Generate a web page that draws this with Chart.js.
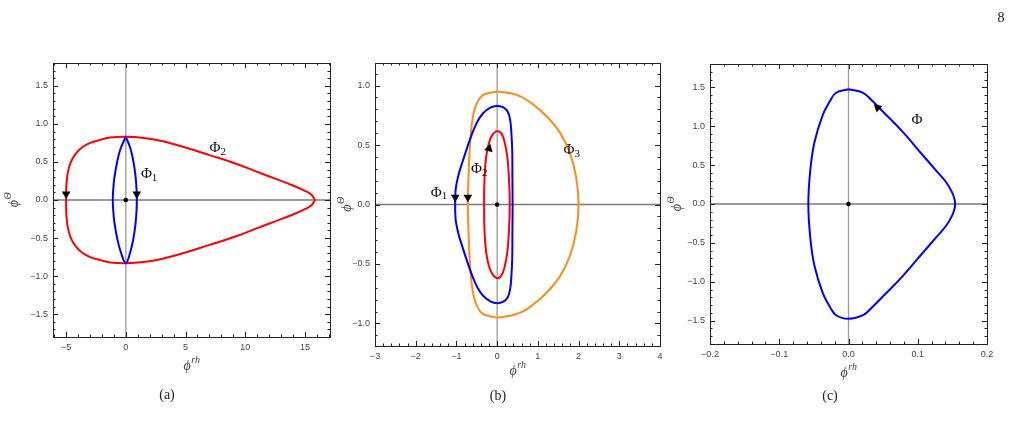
<!DOCTYPE html>
<html>
<head>
<meta charset="utf-8">
<script src="https://cdn.jsdelivr.net/npm/chart.js@4.4.0/dist/chart.umd.min.js"></script>
<style>
  body { margin: 0; background: #fff; width: 1013px; height: 437px; position: relative; overflow: hidden; font-family: "Liberation Serif", "DejaVu Serif", serif; }
  canvas { position: absolute; left: 0; top: 0; }
  .cap { position: absolute; font-size: 14px; color: #222; transform: translate(-50%, -50%); }
</style>
</head>
<body>
<canvas id="pa" width="1013" height="437"></canvas>
<canvas id="pb" width="1013" height="437"></canvas>
<canvas id="pc" width="1013" height="437"></canvas>
<div class="cap" style="left:167px;top:395px">(a)</div>
<div class="cap" style="left:498px;top:396px">(b)</div>
<div class="cap" style="left:830px;top:396px">(c)</div>
<div class="cap" style="left:1001px;top:18px">8</div>
<script>
// ---- panel (a) ----
const aPhi1 = [[0,0.83],[0.38,0.68],[0.64,0.5],[0.82,0.3],[0.9,0.13],[0.92,0],[0.9,-0.13],[0.82,-0.3],[0.64,-0.5],[0.38,-0.68],[0,-0.83],
  [-0.43,-0.68],[-0.73,-0.5],[-0.95,-0.3],[-1.06,-0.13],[-1.09,0],[-1.06,0.13],[-0.95,0.3],[-0.73,0.5],[-0.43,0.68],[0,0.83]];
const aPhi2 = [[15.85,0],[15.55,0.07],[15.0,0.12],[14.0,0.19],[12.5,0.28],[11.0,0.37],[9.0,0.49],[7.0,0.59],[5.0,0.69],[3.0,0.775],[1.5,0.815],
  [0,0.83],[-1.31,0.82],[-2.15,0.79],[-2.98,0.75],[-3.68,0.69],[-4.24,0.6],[-4.6,0.5],[-4.85,0.37],[-4.97,0.22],[-5.0,0.09],[-5.0,0],
  [-5.0,-0.09],[-4.97,-0.22],[-4.85,-0.37],[-4.6,-0.5],[-4.24,-0.6],[-3.68,-0.69],[-2.98,-0.75],[-2.15,-0.79],[-1.31,-0.82],[0,-0.83],
  [1.5,-0.815],[3.0,-0.775],[5.0,-0.69],[7.0,-0.59],[9.0,-0.49],[11.0,-0.37],[12.5,-0.28],[14.0,-0.19],[15.0,-0.12],[15.55,-0.07],[15.85,0]];
const aArrows = [[-5.0,0.08],[0.92,0.08]];
const aArrowRot = [180, 180];
const aLabels = [['Φ','2',7.7,0.68],['Φ','1',1.95,0.34]];
const aXTicks = [-5, 0, 5, 10, 15];
const aYTicks = [-1.5, -1.0, -0.5, 0.0, 0.5, 1.0, 1.5];

// ---- panel (b) ----
const bPhi1 = [[0,0.83],[0.155,0.817],[0.26,0.78],[0.32,0.71],[0.35,0.6],[0.37,0.46],[0.375,0.23],[0.38,0],[0.375,-0.23],[0.37,-0.46],
  [0.35,-0.6],[0.32,-0.71],[0.26,-0.78],[0.155,-0.817],[0,-0.83],[-0.155,-0.817],[-0.34,-0.77],[-0.48,-0.7],[-0.61,-0.6],[-0.73,-0.485],
  [-0.84,-0.37],[-0.94,-0.26],[-1.01,-0.15],[-1.03,-0.06],[-1.03,0],[-1.03,0.06],[-1.01,0.15],[-0.94,0.26],[-0.84,0.37],[-0.73,0.485],
  [-0.61,0.6],[-0.48,0.7],[-0.34,0.77],[-0.155,0.817],[0,0.83]];
const bPhi2 = [[0,0.62],[0.1,0.6],[0.18,0.53],[0.25,0.4],[0.29,0.22],[0.31,0],[0.29,-0.22],[0.25,-0.4],[0.18,-0.53],[0.1,-0.6],[0,-0.62],
  [-0.11,-0.59],[-0.2,-0.52],[-0.27,-0.4],[-0.31,-0.22],[-0.32,0],[-0.31,0.22],[-0.27,0.4],[-0.2,0.52],[-0.11,0.59],[0,0.62]];
const bPhi3 = [[0,0.95],[0.24,0.94],[0.57,0.91],[0.89,0.84],[1.22,0.74],[1.55,0.6],[1.79,0.43],[1.94,0.23],[2.0,0],[1.94,-0.23],[1.79,-0.43],
  [1.55,-0.6],[1.22,-0.74],[0.89,-0.84],[0.57,-0.91],[0.24,-0.94],[0,-0.95],[-0.17,-0.94],[-0.35,-0.92],[-0.48,-0.865],[-0.57,-0.78],
  [-0.63,-0.65],[-0.67,-0.485],[-0.7,-0.26],[-0.72,0],[-0.7,0.26],[-0.67,0.485],[-0.63,0.65],[-0.57,0.78],[-0.48,0.865],[-0.35,0.92],
  [-0.17,0.94],[0,0.95]];
const bArrows = [[-1.03,0.06],[-0.72,0.06],[-0.2,0.47]];
const bArrowRot = [180, 180, 15];
const bLabels = [['Φ','3',1.83,0.46],['Φ','2',-0.44,0.3],['Φ','1',-1.43,0.1]];
const bXTicks = [-3, -2, -1, 0, 1, 2, 3, 4];
const bYTicks = [-1.0, -0.5, 0.0, 0.5, 1.0];

// ---- panel (c) ----
const cPhi = [[0,1.475],[0.021,1.43],[0.035,1.32],[0.0495,1.19],[0.078,0.93],[0.107,0.63],[0.1265,0.43],[0.141,0.28],[0.1496,0.15],
  [0.153,0.065],[0.154,0],[0.153,-0.065],[0.1496,-0.15],[0.141,-0.28],[0.1265,-0.43],[0.107,-0.63],[0.078,-0.93],[0.0495,-1.19],
  [0.035,-1.32],[0.021,-1.43],[0,-1.475],[-0.018,-1.43],[-0.027,-1.32],[-0.037,-1.15],[-0.049,-0.8],[-0.055,-0.45],[-0.058,0],
  [-0.055,0.45],[-0.049,0.8],[-0.037,1.15],[-0.027,1.32],[-0.018,1.43],[0,1.475]];
const cArrows = [[0.042,1.24]];
const cArrowRot = [-48];
const cLabels = [['Φ','',0.099,1.08]];
const cXTicks = [-0.2, -0.1, 0.0, 0.1, 0.2];
const cYTicks = [-1.5, -1.0, -0.5, 0.0, 0.5, 1.0, 1.5];

const pts = arr => arr.map(p => ({ x: p[0], y: p[1] }));
const minus = s => s.replace('-', '\u2212');

// frame, inward ticks on all sides, zero axes, labels and axis titles
const framePlugin = {
  id: 'frame',
  beforeDatasetsDraw(chart, args, o) {
    const { ctx, chartArea: a, scales: { x, y } } = chart;
    ctx.save();
    ctx.lineWidth = 1.3;
    ctx.strokeStyle = '#9a9a9a';
    const x0 = x.getPixelForValue(0);
    ctx.beginPath(); ctx.moveTo(x0, a.top); ctx.lineTo(x0, a.bottom); ctx.stroke();
    ctx.strokeStyle = '#7a7a7a';
    const y0 = y.getPixelForValue(0);
    ctx.beginPath(); ctx.moveTo(a.left, y0); ctx.lineTo(a.right, y0); ctx.stroke();
    ctx.restore();
  },
  afterDraw(chart, args, o) {
    const { ctx, chartArea: a, scales: { x, y } } = chart;
    ctx.save();
    ctx.strokeStyle = '#222';
    ctx.lineWidth = 1;
    ctx.strokeRect(Math.round(a.left) + .5, Math.round(a.top) + .5, Math.round(a.right - a.left), Math.round(a.bottom - a.top));
    const each = (scale, step, majors, fn) => {
      for (let k = Math.ceil(scale.min / step - 1e-9); k * step <= scale.max + 1e-9; k++) {
        const v = k * step;
        const major = majors.some(m => Math.abs(m - v) < step / 10);
        fn(Math.round(scale.getPixelForValue(v)) + .5, major ? 5 : 2.5);
      }
    };
    ctx.beginPath();
    each(x, o.xMinor, o.xMajor, (p, l) => {
      ctx.moveTo(p, a.bottom); ctx.lineTo(p, a.bottom - l);
      ctx.moveTo(p, a.top); ctx.lineTo(p, a.top + l);
    });
    each(y, o.yMinor, o.yMajor, (p, l) => {
      ctx.moveTo(a.left, p); ctx.lineTo(a.left + l, p);
      ctx.moveTo(a.right, p); ctx.lineTo(a.right - l, p);
    });
    ctx.stroke();

    // curve labels
    ctx.fillStyle = '#111';
    ctx.textBaseline = 'middle';
    o.labels.forEach(([base, sub, lx, ly]) => {
      const px = x.getPixelForValue(lx), py = y.getPixelForValue(ly);
      ctx.font = '15px "Liberation Serif", serif';
      const w = ctx.measureText(base).width;
      ctx.font = '11px "Liberation Serif", serif';
      const ws = ctx.measureText(sub).width;
      const sx = px - (w + ws) / 2;
      ctx.font = '15px "Liberation Serif", serif';
      ctx.fillText(base, sx, py);
      ctx.font = '11px "Liberation Serif", serif';
      ctx.fillText(sub, sx + w, py + 4);
    });

    // axis titles
    const supTitle = (base, sup, cx, cy) => {
      ctx.font = 'italic 14px "Liberation Serif", serif';
      const w = ctx.measureText(base).width;
      ctx.font = 'italic 10px "Liberation Serif", serif';
      const ws = ctx.measureText(sup).width;
      const sx = cx - (w + ws) / 2;
      ctx.fillStyle = '#444';
      ctx.textBaseline = 'alphabetic';
      ctx.font = 'italic 14px "Liberation Serif", serif';
      ctx.fillText(base, sx, cy + 5);
      ctx.font = 'italic 10px "Liberation Serif", serif';
      ctx.fillText(sup, sx + w + 0.5, cy - 2);
    };
    supTitle('\u03d5', 'rh', (a.left + a.right) / 2, a.bottom + o.xTitle);
    ctx.save();
    ctx.translate(a.left - o.yTitle, (a.top + a.bottom) / 2);
    ctx.rotate(-Math.PI / 2);
    supTitle('\u03d5', '\u0398', 0, 0);
    ctx.restore();
    ctx.restore();
  }
};

function makePanel(id, box, xr, yr, xTicks, yTicks, xDec, yDec, curves, arrows, arrowRot, labels, minors, titles) {
  const W = 1013, H = 437, yW = 30, xH = 20;
  const datasets = [
    { data: pts(arrows), pointStyle: 'triangle', pointRotation: arrowRot, pointRadius: 5,
      backgroundColor: '#000', borderColor: '#000', borderWidth: 0, showLine: false },
    { data: [{ x: 0, y: 0 }], pointRadius: 2.3, backgroundColor: '#000', borderWidth: 0, showLine: false }
  ];
  curves.forEach(([arr, color]) => datasets.push({
    data: pts(arr), showLine: true, borderColor: color, borderWidth: 2,
    pointRadius: 0, tension: 0.4, fill: false
  }));
  const axis = (r, ticks, dec, fitKey, fitVal) => ({
    type: 'linear', min: r[0], max: r[1],
    grid: { display: false, drawTicks: false },
    border: { display: false },
    afterBuildTicks: s => { s.ticks = ticks.map(v => ({ value: v })); },
    afterFit: s => { s[fitKey] = fitVal; },
    ticks: {
      autoSkip: false, padding: 5, color: '#444',
      font: { family: '"Liberation Sans", Arial, sans-serif', size: 9 },
      callback: v => minus(v.toFixed(dec))
    }
  });
  return new Chart(document.getElementById(id), {
    type: 'scatter',
    data: { datasets },
    options: {
      responsive: false, animation: false, events: [],
      layout: { padding: { left: box[0] - yW, top: box[1], right: W - box[2], bottom: H - box[3] - xH } },
      scales: {
        x: axis(xr, xTicks, xDec, 'height', xH),
        y: axis(yr, yTicks, yDec, 'width', yW)
      },
      plugins: {
        legend: { display: false }, tooltip: { enabled: false },
        frame: { xMinor: minors[0], yMinor: minors[1], xMajor: xTicks, yMajor: yTicks,
                 labels, xTitle: titles[0], yTitle: titles[1] }
      }
    },
    plugins: [framePlugin]
  });
}

makePanel('pa', [53, 63, 330, 337], [-6.1, 17.1], [-1.8, 1.8], aXTicks, aYTicks, 0, 1,
  [[aPhi1, '#0000ff'], [aPhi2, '#ff0000']], aArrows, aArrowRot, aLabels, [1, 0.1], [28, 40]);
makePanel('pb', [375, 63, 660, 346], [-3, 4], [-1.19, 1.19], bXTicks, bYTicks, 0, 1,
  [[bPhi2, '#ff0000'], [bPhi1, '#0000ff'], [bPhi3, '#ff8c1a']], bArrows, bArrowRot, bLabels, [0.2, 0.1], [24, 29]);
makePanel('pc', [710, 64, 987, 344], [-0.2, 0.2], [-1.8, 1.8], cXTicks, cYTicks, 1, 1,
  [[cPhi, '#0000ff']], cArrows, cArrowRot, cLabels, [0.02, 0.1], [28, 34]);
</script>
</body>
</html>
